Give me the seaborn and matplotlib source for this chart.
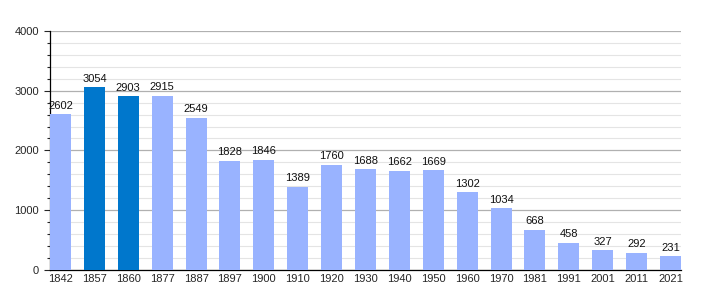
import matplotlib
matplotlib.use("Agg")
import matplotlib.pyplot as plt
import seaborn as sns
import pandas as pd
from matplotlib.ticker import MultipleLocator

years = ["1842", "1857", "1860", "1877", "1887", "1897", "1900", "1910", "1920", "1930",
         "1940", "1950", "1960", "1970", "1981", "1991", "2001", "2011", "2021"]
population = [2602, 3054, 2903, 2915, 2549, 1828, 1846, 1389, 1760, 1688,
              1662, 1669, 1302, 1034, 668, 458, 327, 292, 231]
highlight = ["1857", "1860"]

df = pd.DataFrame({"year": years, "pop": population})
df["kind"] = ["hi" if y in highlight else "lo" for y in years]

sns.set_style("white")
plt.rcParams['font.family'] = ['Liberation Sans', 'DejaVu Sans']

fig = plt.figure(figsize=(7.1, 3.0), dpi=100)
ax = fig.add_axes([0.0704, 0.1, 0.8887, 0.797])

w = 0.62
sns.barplot(data=df, x="year", y="pop", hue="kind", order=years,
            palette={"lo": "#99b3ff", "hi": "#0077cc"}, dodge=False, saturation=1,
            width=w, legend=False, ax=ax, zorder=3, linewidth=0)

for i, v in enumerate(population):
    ax.text(i, v + 60, str(v), ha="center", va="bottom", fontsize=8, color="#111111", zorder=4)

ax.set_xlim(-w / 2, len(years) - 1 + w / 2)
ax.set_ylim(0, 4000)
ax.yaxis.set_major_locator(MultipleLocator(1000))
ax.yaxis.set_minor_locator(MultipleLocator(200))
ax.grid(which="major", axis="y", color="#b0b0b0", linewidth=0.9, zorder=0)
ax.grid(which="minor", axis="y", color="#e4e4e4", linewidth=0.8, zorder=0)
ax.set_axisbelow(True)
ax.set_xlabel("")
ax.set_ylabel("")
for s in ["top", "right"]:
    ax.spines[s].set_visible(False)
ax.spines["left"].set_color("#000000")
ax.spines["bottom"].set_color("#000000")
ax.spines["left"].set_linewidth(0.9)
ax.spines["bottom"].set_linewidth(0.9)
ax.tick_params(axis="y", which="major", length=4, width=0.8, left=True, labelsize=8, pad=4)
ax.tick_params(axis="y", which="minor", length=2, width=0.8, left=True)
ax.tick_params(axis="x", length=0, labelsize=8, pad=3)

fig.savefig("out.png", dpi=100)
